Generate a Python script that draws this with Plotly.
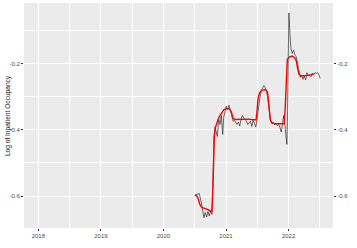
import plotly.graph_objects as go

# Observed series (decimal year, log occupancy)
obs_year = [2020.503, 2020.540, 2020.572, 2020.599, 2020.626, 2020.647, 2020.668, 2020.690, 2020.711, 2020.733,
            2020.754, 2020.775, 2020.791, 2020.807, 2020.824, 2020.845, 2020.861, 2020.882, 2020.904, 2020.925,
            2020.947, 2020.963, 2020.984, 2021.005, 2021.027, 2021.048, 2021.070, 2021.091, 2021.112, 2021.134,
            2021.155, 2021.176, 2021.198, 2021.219, 2021.241, 2021.262, 2021.283, 2021.305, 2021.326, 2021.348,
            2021.369, 2021.390, 2021.412, 2021.433, 2021.455, 2021.476, 2021.497, 2021.519, 2021.540, 2021.561,
            2021.583, 2021.604, 2021.626, 2021.647, 2021.668, 2021.690, 2021.711, 2021.733, 2021.754, 2021.775,
            2021.797, 2021.818, 2021.840, 2021.861, 2021.882, 2021.904, 2021.920, 2021.936, 2021.957, 2021.973,
            2021.984, 2021.995, 2022.005, 2022.021, 2022.037, 2022.059, 2022.080, 2022.102, 2022.123, 2022.144,
            2022.166, 2022.187, 2022.209, 2022.230, 2022.251, 2022.273, 2022.294, 2022.315, 2022.337, 2022.358,
            2022.380, 2022.401, 2022.422, 2022.444, 2022.465, 2022.487, 2022.503]
obs_val = [-0.597, -0.595, -0.592, -0.614, -0.644, -0.665, -0.649, -0.663, -0.646, -0.660,
           -0.644, -0.655, -0.554, -0.422, -0.392, -0.412, -0.420, -0.367, -0.384, -0.357,
           -0.414, -0.362, -0.341, -0.329, -0.338, -0.326, -0.341, -0.357, -0.374, -0.372,
           -0.380, -0.384, -0.377, -0.389, -0.367, -0.357, -0.364, -0.370, -0.374, -0.384,
           -0.380, -0.374, -0.390, -0.372, -0.380, -0.392, -0.367, -0.330, -0.305, -0.283,
           -0.273, -0.267, -0.273, -0.283, -0.306, -0.341, -0.374, -0.380, -0.377, -0.384,
           -0.382, -0.387, -0.384, -0.392, -0.407, -0.382, -0.357, -0.377, -0.412, -0.444,
           -0.341, -0.160, -0.048, -0.109, -0.155, -0.170, -0.160, -0.175, -0.180, -0.200,
           -0.220, -0.242, -0.235, -0.248, -0.238, -0.250, -0.228, -0.238, -0.235, -0.240,
           -0.230, -0.235, -0.228, -0.230, -0.228, -0.235, -0.245]

# Smoothed series
smooth_year = [2020.503, 2020.535, 2020.556, 2020.583, 2020.615, 2020.658, 2020.701, 2020.743, 2020.775, 2020.791,
               2020.802, 2020.813, 2020.829, 2020.850, 2020.877, 2020.904, 2020.936, 2020.968, 2021.011, 2021.053,
               2021.086, 2021.107, 2021.134, 2021.198, 2021.278, 2021.358, 2021.428, 2021.481, 2021.497, 2021.513,
               2021.535, 2021.572, 2021.626, 2021.663, 2021.684, 2021.706, 2021.733, 2021.786, 2021.866, 2021.930,
               2021.947, 2021.963, 2021.979, 2022.005, 2022.053, 2022.096, 2022.123, 2022.144, 2022.166, 2022.198,
               2022.251, 2022.305, 2022.358, 2022.401]
smooth_val = [-0.597, -0.600, -0.608, -0.626, -0.634, -0.636, -0.640, -0.644, -0.646, -0.574,
              -0.483, -0.422, -0.394, -0.380, -0.367, -0.357, -0.346, -0.339, -0.336, -0.337,
              -0.346, -0.362, -0.369, -0.369, -0.367, -0.368, -0.370, -0.370, -0.341, -0.305,
              -0.289, -0.281, -0.279, -0.286, -0.321, -0.367, -0.380, -0.382, -0.382, -0.382,
              -0.331, -0.220, -0.188, -0.182, -0.178, -0.182, -0.192, -0.215, -0.232, -0.238,
              -0.238, -0.236, -0.234, -0.232]

x_ticks = [2018, 2019, 2020, 2021, 2022]
x_labels = ["2018", "2019", "2020", "2021", "2022"]
y_ticks = [-0.6, -0.4, -0.2]
y_labels = ["-0.6", "-0.4", "-0.2"]
x_minor = [2018.5, 2019.5, 2020.5, 2021.5, 2022.5]
y_minor = [-0.5, -0.3, -0.1]

FONT = "Liberation Sans, Arial, sans-serif"
y_range = [-0.696, -0.018]

fig = go.Figure()
fig.add_trace(go.Scatter(x=obs_year, y=obs_val, mode="lines",
                         line=dict(color="#2b2b2b", width=0.7), showlegend=False))
fig.add_trace(go.Scatter(x=smooth_year, y=smooth_val, mode="lines",
                         line=dict(color="#ff0000", width=1.4), showlegend=False))
fig.add_trace(go.Scatter(x=obs_year, y=obs_val, mode="lines", yaxis="y2",
                         line=dict(color="rgba(0,0,0,0)", width=0), showlegend=False, hoverinfo="skip"))

axis_common = dict(showline=False, zeroline=False, ticks="outside", ticklen=2, tickwidth=0.6,
                   tickcolor="#333333", tickfont=dict(family=FONT, size=6, color="#4d4d4d"))

fig.update_layout(
    width=357, height=248,
    margin=dict(l=24, r=24, t=3, b=20),
    paper_bgcolor="white", plot_bgcolor="#ebebeb",
    xaxis=dict(range=[2017.771, 2022.710], tickvals=x_ticks, ticktext=x_labels,
               showgrid=True, gridcolor="white", gridwidth=1,
               minor=dict(tickvals=x_minor, showgrid=True, gridcolor="white", gridwidth=0.5, ticks=""),
               **axis_common),
    yaxis=dict(range=y_range, tickvals=y_ticks, ticktext=y_labels,
               showgrid=True, gridcolor="white", gridwidth=1,
               minor=dict(tickvals=y_minor, showgrid=True, gridcolor="white", gridwidth=0.5, ticks=""),
               **axis_common),
    yaxis2=dict(range=y_range, tickvals=y_ticks, ticktext=y_labels, overlaying="y", side="right",
                showgrid=False, **axis_common),
    annotations=[dict(text="Log of Inpatient Occupancy", xref="paper", yref="paper",
                      x=-0.053, y=0.5, xanchor="center", yanchor="middle", textangle=-90,
                      showarrow=False, font=dict(family=FONT, size=6.6, color="#1a1a1a"))],
)

fig.write_html("out.html")
